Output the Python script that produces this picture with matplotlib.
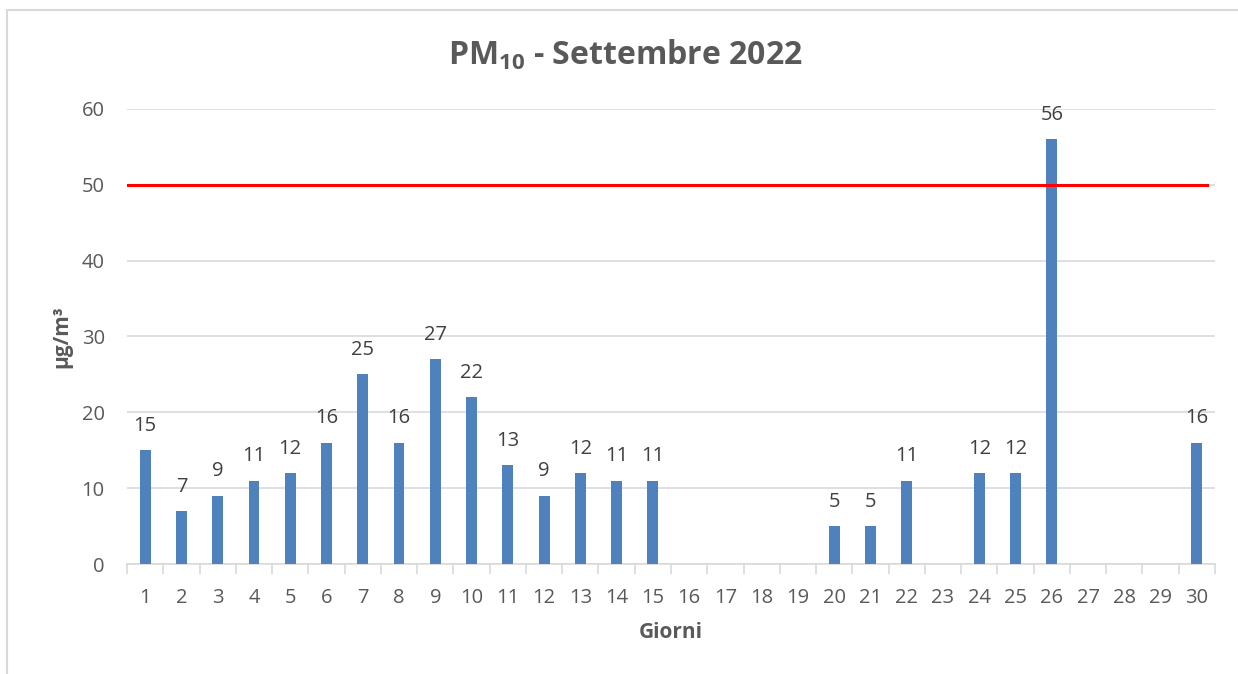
import numpy as np
import matplotlib.pyplot as plt
from matplotlib.patches import Rectangle

days = list(range(1, 31))
pm10 = [15, 7, 9, 11, 12, 16, 25, 16, 27, 22, 13, 9, 12, 11, 11,
        None, None, None, None, 5, 5, 11, None, 12, 12, 56,
        None, None, None, 16]
limit = 50

plt.rcParams['font.family'] = ['Open Sans', 'DejaVu Sans']
plt.rcParams['mathtext.fontset'] = 'custom'
plt.rcParams['mathtext.bf'] = 'Open Sans:bold'
plt.rcParams['mathtext.rm'] = 'Open Sans:bold'
plt.rcParams['mathtext.default'] = 'bf'

grey = '#595959'

fig = plt.figure(figsize=(12.38, 6.74), dpi=100)
ax = fig.add_axes([0.1026, 0.1632, 0.8788, 0.6751])

vals = np.array([np.nan if v is None else v for v in pm10], dtype=float)
ax.bar(days, np.nan_to_num(vals), width=0.3, color='#4f81bd', zorder=3)
for d, v in zip(days, pm10):
    if v is not None:
        ax.text(d, v + 3.2, str(v), ha='center', va='center',
                fontsize=14.5, color='#404040')

ax.axhline(limit, xmin=0, xmax=0.9926, color='#ff0000', lw=2.2, zorder=4)

ax.set_xlim(0.5, 30.5)
ax.set_ylim(0, 60)
ax.set_yticks(range(0, 61, 10))
ax.set_xticks(days)
ax.set_xticks(np.arange(0.5, 31, 1), minor=True)
ax.tick_params(axis='x', which='major', length=0, pad=17, labelsize=14.5,
               labelcolor=grey)
ax.tick_params(axis='x', which='minor', length=7, width=1.2, color='#d9d9d9')
ax.tick_params(axis='y', length=0, pad=16, labelsize=14.5, labelcolor=grey)
ax.grid(axis='y', color='#d9d9d9', lw=1.2, zorder=0)
for s in ['top', 'right', 'left']:
    ax.spines[s].set_visible(False)
ax.spines['bottom'].set_color('#d9d9d9')
ax.spines['bottom'].set_linewidth(1.2)

ax.set_xlabel('Giorni', fontsize=15, fontweight='bold', color=grey, labelpad=10)
ax.set_ylabel('µg/m³', fontsize=15, fontweight='bold', color=grey, labelpad=7)
fig.text(0.505, 1 - 55 / 674, r'PM$_{10}$ - Settembre 2022', fontsize=23,
         fontweight='bold', color=grey, ha='center', va='center')

fig.patches.append(Rectangle((7 / 1238, -0.05), 1.2, 1 - 10 / 674 + 0.05,
                             transform=fig.transFigure, fill=False,
                             edgecolor='#d9d9d9', lw=1.5))

fig.savefig('out.png', dpi=100)
